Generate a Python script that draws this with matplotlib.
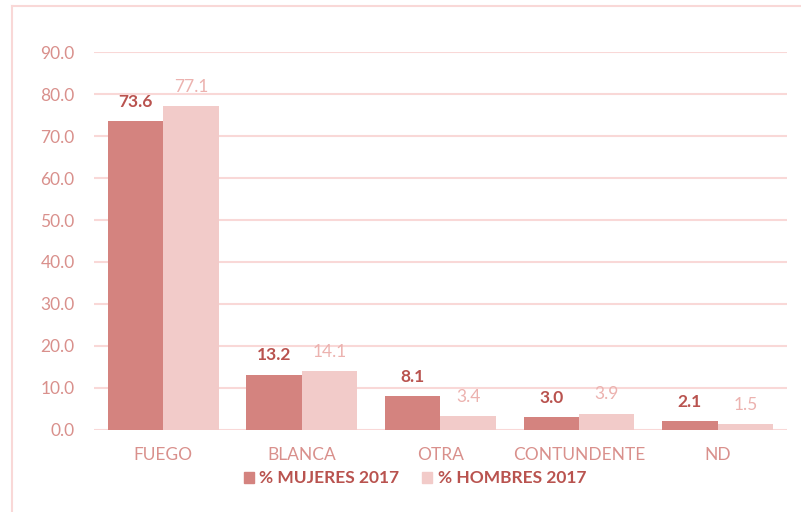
import numpy as np
import matplotlib
matplotlib.use("Agg")
import matplotlib.pyplot as plt
from matplotlib.lines import Line2D
from matplotlib.patches import Patch

## Data
categorias = ["FUEGO", "BLANCA", "OTRA", "CONTUNDENTE", "ND"]
mujeres = [73.6, 13.2, 8.1, 3.0, 2.1]
hombres = [77.1, 14.1, 3.4, 3.9, 1.5]
ticks_y = [0, 10, 20, 30, 40, 50, 60, 70, 80, 90]

## Colours
c_muj = "#d4837f"
c_hom = "#f2cbc9"
c_txt = "#d9908c"
c_lab_muj = "#b9534f"
c_lab_hom = "#ecb2af"
c_grid = "#f9d8d7"

plt.rcParams['font.family'] = ['Lato', 'DejaVu Sans']

fig = plt.figure(figsize=(8.01, 5.12), dpi=100)
ax = fig.add_axes([0.1174, 0.1602, 0.865, 0.7382])

x = np.arange(len(categorias))
w = 0.4
b1 = ax.bar(x - w / 2, mujeres, w, color=c_muj, edgecolor="none", zorder=3)
b2 = ax.bar(x + w / 2, hombres, w, color=c_hom, edgecolor="none", zorder=3)

## Value labels
for rect, v in zip(b1, mujeres):
    ax.annotate("%.1f" % v, (rect.get_x() + rect.get_width() / 2, v),
                xytext=(0, 8), textcoords="offset points", ha="center", va="bottom",
                fontsize=12.5, fontweight="bold", color=c_lab_muj)
for rect, v in zip(b2, hombres):
    ax.annotate("%.1f" % v, (rect.get_x() + rect.get_width() / 2, v),
                xytext=(0, 8), textcoords="offset points", ha="center", va="bottom",
                fontsize=12.5, color=c_lab_hom)

ax.set_xlim(-0.5, len(categorias) - 0.5)
ax.set_ylim(0, 90)
ax.set_yticks(ticks_y)
ax.set_yticklabels(["%.1f" % t for t in ticks_y])
ax.set_xticks(x)
ax.set_xticklabels(categorias)
ax.tick_params(axis="both", length=0, labelsize=12.5, colors=c_txt)
ax.tick_params(axis="y", pad=14)
ax.tick_params(axis="x", pad=12)
ax.grid(axis="y", color=c_grid, linewidth=1.5, zorder=0)
for s in ax.spines.values():
    s.set_visible(False)

## Legend
handles = [Patch(color=c_muj), Patch(color=c_hom)]
leg = fig.legend(handles, ["% MUJERES 2017", "% HOMBRES 2017"], loc="center",
                 bbox_to_anchor=(0.518, 0.066), ncol=2, frameon=False,
                 handlelength=0.6, handleheight=0.6, handletextpad=0.3, columnspacing=1.3,
                 prop={"size": 12.5, "weight": "bold"})
for t in leg.get_texts():
    t.set_color(c_lab_muj)

## Outer frame (left and top only)
fig.add_artist(Line2D([0.015, 0.015], [0, 0.988], color=c_grid, linewidth=1.5))
fig.add_artist(Line2D([0.015, 1], [0.988, 0.988], color=c_grid, linewidth=1.5))

fig.savefig("out.png", dpi=100)
